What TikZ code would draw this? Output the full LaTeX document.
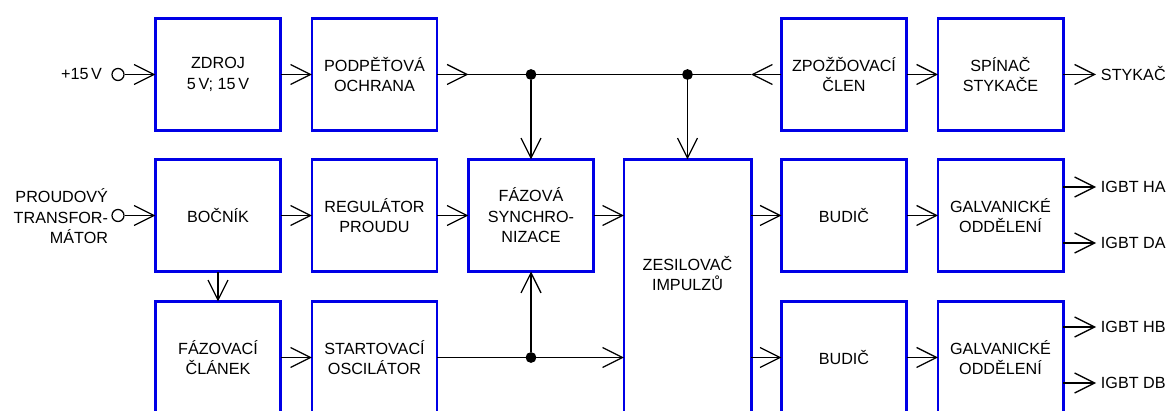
\documentclass[tikz,border=0pt]{standalone}
\usepackage{fontspec}
\setmainfont{Liberation Sans}
\usepackage{tikz}
\usetikzlibrary{positioning, arrows.meta}

\definecolor{modra}{RGB}{0,0,230}

\begin{document}
\begin{tikzpicture}[x=0.025cm, y=-0.025cm,
    every node/.style={font=\fontsize{11.5}{14.6}\selectfont},
    blok/.style={draw=modra, line width=2.1pt, minimum width=3.125cm, minimum height=2.8cm, align=center, inner sep=2pt, outer sep=0pt},
    sipka/.style={-{Straight Barb[length=5mm, width=5mm]}, line width=0.9pt},
    vodic/.style={line width=0.9pt},
    uzel/.style={circle, fill, inner sep=0pt, minimum size=0.27cm},
    svorka/.style={circle, draw, line width=0.9pt, inner sep=0pt, minimum size=0.3cm},
    vystup/.style={anchor=west, text height=8.2pt, text depth=0pt}]
    \useasboundingbox (0,0) rectangle (1172,411);
    \clip (0,0) rectangle (1172,411);

    % horni rada
    \node[blok] (zdroj) at (218,74.5) {ZDROJ\\5\,V; 15\,V};
    \node[blok] (podpet) at (374.5,74.5) {PODPĚŤOVÁ\\OCHRANA};
    \node[blok] (zpozd) at (844,74.5) {ZPOŽĎOVACÍ\\ČLEN};
    \node[blok] (spinac) at (1000.5,74.5) {SPÍNAČ\\STYKAČE};

    % prostredni rada
    \node[blok] (bocnik) at (218,215.5) {BOČNÍK};
    \node[blok] (regul) at (374.5,215.5) {REGULÁTOR\\PROUDU};
    \node[blok] (synchro) at (531,215.5) {FÁZOVÁ\\SYNCHRO-\\NIZACE};
    \node[blok, minimum width=3.175cm, minimum height=6.35cm,
        label={[align=center, yshift=0.33cm]center:ZESILOVAČ\\IMPULZŮ}] (zesil) at (687.5,286.5) {};
    \node[blok] (budA) at (844,215.5) {BUDIČ};
    \node[blok] (galA) at (1000.5,215.5) {GALVANICKÉ\\ODDĚLENÍ};

    % spodni rada
    \node[blok] (clanek) at (218,357.5) {FÁZOVACÍ\\ČLÁNEK};
    \node[blok] (start) at (374.5,357.5) {STARTOVACÍ\\OSCILÁTOR};
    \node[blok] (budB) at (844,357.5) {BUDIČ};
    \node[blok] (galB) at (1000.5,357.5) {GALVANICKÉ\\ODDĚLENÍ};

    % vstupy
    \node[svorka] (s1) at (118,74.5) {};
    \node[anchor=east] (t1) at (107,74.5) {+15\,V};
    \node[svorka] (s2) at (118,215.5) {};
    \node[anchor=east, align=right] (t2) at (113,216.5) {PROUDOVÝ\\TRANSFOR-\\MÁTOR};
    \draw[sipka] (s1) -- (zdroj);
    \draw[sipka] (s2) -- (bocnik);

    % spoje mezi bloky
    \draw[sipka] (zdroj) -- (podpet);
    \draw[sipka] (zpozd) -- (spinac);
    \draw[sipka] (bocnik) -- (regul);
    \draw[sipka] (regul) -- (synchro);
    \draw[sipka] (bocnik) -- (clanek);
    \draw[sipka] (clanek) -- (start);
    \draw[sipka] (budA) -- (galA);
    \draw[sipka] (budB) -- (galB);
    \coordinate (zS) at (zesil.west |- synchro);
    \draw[sipka] (synchro) -- (zS);
    \coordinate (zA) at (zesil.east |- budA);
    \coordinate (zB) at (zesil.east |- budB);
    \draw[sipka] (zA) -- (budA);
    \draw[sipka] (zB) -- (budB);

    % sbernice nahore
    \coordinate (busL) at (synchro.west |- podpet);
    \coordinate (busR) at (zesil.east |- zpozd);
    \node[uzel] (j1) at (synchro |- podpet) {};
    \node[uzel] (j2) at (zesil |- podpet) {};
    \draw[sipka] (podpet) -- (busL);
    \draw[vodic] (busL) -- (busR);
    \draw[sipka] (zpozd) -- (busR);
    \draw[sipka] (j1) -- (synchro);
    \draw[sipka] (j2) -- (zesil);

    % startovaci oscilator
    \node[uzel] (j3) at (synchro |- start) {};
    \coordinate (zO) at (zesil.west |- start);
    \draw[sipka] (start) -- (zO);
    \draw[sipka] (j3) -- (synchro);

    % vystupy
    \node[vystup] (stykac) at (1096,74.5) {STYKAČ};
    \draw[sipka] (spinac) -- (stykac);
    \foreach \g/\y/\n/\t in {galA/187/hA/IGBT HA, galA/243/dA/IGBT DA, galB/327/hB/IGBT HB, galB/383/dB/IGBT DB} {
        \node[vystup] (\n) at (1096,\y) {\t};
        \draw[sipka] (\g.east |- \n) -- (\n);
    }
\end{tikzpicture}
\end{document}
